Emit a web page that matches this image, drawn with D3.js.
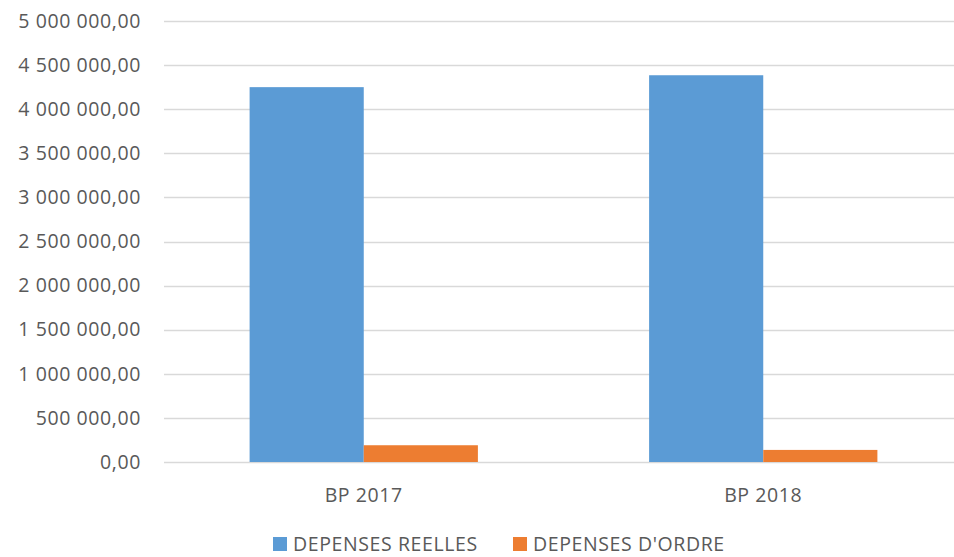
<!DOCTYPE html>
<html><head><meta charset="utf-8">
<script src="https://cdn.jsdelivr.net/npm/d3@7/dist/d3.min.js"></script>
<style>body{margin:0;background:#fff}svg{display:block}text{font-family:"Open Sans",sans-serif;fill:#595959;letter-spacing:0.6px}</style>
</head><body><svg id="c" width="954" height="557"></svg>
<script>
const categories = ["BP 2017", "BP 2018"];
const seriesNames = ["DEPENSES REELLES", "DEPENSES D'ORDRE"];
const reelles = [4250000, 4385000];
const ordre = [190000, 137000];
const yTicks = [0, 500000, 1000000, 1500000, 2000000, 2500000, 3000000, 3500000, 4000000, 4500000, 5000000];
const colors = ["#5B9BD5", "#ED7D31"];

const svg = d3.select("#c");
const x = d3.scaleBand().domain(categories).range([164, 963]).paddingInner(0).paddingOuter(0);
const y = d3.scaleLinear().domain([0, 5000000]).range([462, 21]);
const barW = x.bandwidth()/3.5;
const fmt = v => Math.round(v).toString().replace(/\B(?=(\d{3})+(?!\d))/g, " ") + ",00";
const FS = 19.5;

svg.append("g").selectAll("line").data(yTicks).join("line")
  .attr("x1", 164).attr("x2", 963)
  .attr("y1", d => Math.round(y(d)) + 0.5).attr("y2", d => Math.round(y(d)) + 0.5)
  .attr("stroke", "#D9D9D9").attr("stroke-width", 1.3);

const ya = svg.append("g").attr("transform", "translate(164,0)")
  .call(d3.axisLeft(y).tickValues(yTicks).tickFormat(fmt).tickSize(0).tickPadding(23));
ya.select(".domain").remove();
ya.selectAll("text").attr("font-size", FS).attr("fill", "#595959").style("font-family", "'Open Sans',sans-serif");

[reelles, ordre].forEach((vals, si) => {
  svg.append("g").selectAll("rect").data(vals).join("rect")
    .attr("x", (d, i) => x(categories[i]) + barW*0.75 + si*barW)
    .attr("width", barW)
    .attr("y", d => y(d))
    .attr("height", d => y(0) - y(d))
    .attr("fill", colors[si]);
});

const xa = svg.append("g").attr("transform", "translate(0,462)")
  .call(d3.axisBottom(x).tickSize(0).tickPadding(26));
xa.select(".domain").remove();
xa.selectAll("text").attr("font-size", FS).attr("fill", "#595959").style("font-family", "'Open Sans',sans-serif");

const legX = [273, 513];
const leg = svg.append("g");
seriesNames.forEach((n, i) => {
  leg.append("rect").attr("x", legX[i]).attr("y", 537).attr("width", 14).attr("height", 14).attr("fill", colors[i]);
  leg.append("text").attr("x", legX[i] + 20).attr("y", 551).attr("font-size", FS).text(n);
});
</script></body></html>
